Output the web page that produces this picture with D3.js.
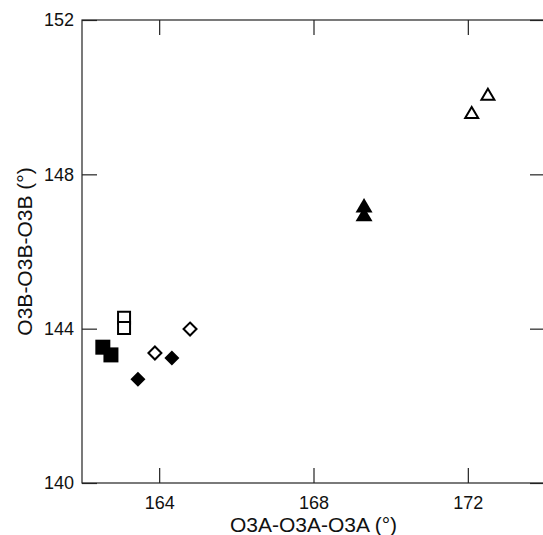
<!DOCTYPE html>
<html>
<head>
<meta charset="utf-8">
<script src="https://cdn.jsdelivr.net/npm/d3@7"></script>
<style>
  body { margin: 0; background: #fff; }
  svg { display: block; font-family: "Liberation Sans", Arial, sans-serif; }
</style>
</head>
<body>
<div id="chart"></div>
<script>
// O3A-O3A-O3A angle (x) vs O3B-O3B-O3B angle (y), degrees
const squaresOpen = [[163.09, 144.28], [163.09, 144.02]];
const squaresFilled = [[162.54, 143.52], [162.75, 143.32]];
const diamondsOpen = [[163.89, 143.37], [164.80, 143.99]];
const diamondsFilled = [[163.45, 142.69], [164.33, 143.24]];
const trianglesOpen = [[172.10, 149.59], [172.52, 150.06]];
const trianglesFilled = [[169.31, 147.18], [169.31, 146.95]];

const xTicks = [164, 168, 172];
const yTicks = [140, 144, 148, 152];

const width = 543, height = 535;
const margin = {top: 20, right: -2, bottom: 52, left: 82};
const graphWidth = width - margin.left - margin.right;
const graphHeight = height - margin.top - margin.bottom;

const svg = d3.select('#chart').append('svg')
    .attr('width', width)
    .attr('height', height);

const g = svg.append('g')
    .attr('transform', 'translate(' + margin.left + ',' + margin.top + ')');

const x = d3.scaleLinear().domain([162, 174]).range([0, graphWidth]);
const y = d3.scaleLinear().domain([140, 152]).range([graphHeight, 0]);

// frame
g.append('rect')
    .attr('width', graphWidth)
    .attr('height', graphHeight)
    .attr('fill', 'none')
    .attr('stroke', '#222')
    .attr('stroke-width', 1.2);

function styleAxis(sel) {
    sel.select('.domain').remove();
    sel.selectAll('.tick line').attr('stroke', '#222').attr('stroke-width', 1.2);
    sel.selectAll('.tick text')
        .attr('fill', '#111')
        .style('font-size', '18px')
        .style('font-family', '"Liberation Sans", Arial, sans-serif');
}

// bottom axis, ticks pointing inward
g.append('g')
    .attr('transform', 'translate(0,' + graphHeight + ')')
    .call(d3.axisBottom(x).tickValues(xTicks).tickSizeInner(-15).tickSizeOuter(0).tickPadding(13).tickFormat(d3.format('d')))
    .call(styleAxis);

g.append('g')
    .call(d3.axisTop(x).tickValues(xTicks).tickSizeInner(-15).tickSizeOuter(0).tickFormat(''))
    .call(styleAxis);

g.append('g')
    .call(d3.axisLeft(y).tickValues(yTicks).tickSizeInner(-15).tickSizeOuter(0).tickPadding(8).tickFormat(d3.format('d')))
    .call(styleAxis);

g.append('g')
    .attr('transform', 'translate(' + graphWidth + ',0)')
    .call(d3.axisRight(y).tickValues(yTicks).tickSizeInner(-15).tickSizeOuter(0).tickFormat(''))
    .call(styleAxis);

// axis titles
svg.append('text')
    .attr('x', margin.left + x(168))
    .attr('y', 532)
    .attr('text-anchor', 'middle')
    .style('font-size', '21px')
    .attr('fill', '#111')
    .text('O3A-O3A-O3A (°)');

svg.append('text')
    .attr('transform', 'translate(32,' + (margin.top + y(146)) + ') rotate(-90)')
    .attr('text-anchor', 'middle')
    .style('font-size', '21px')
    .attr('fill', '#111')
    .text('O3B-O3B-O3B (°)');

// marker shapes
function squarePath(s) {
    const h = s / 2;
    return 'M' + (-h) + ',' + (-h) + 'H' + h + 'V' + h + 'H' + (-h) + 'Z';
}
function diamondPath(s) {
    const h = s / 2;
    return 'M0,' + (-h) + 'L' + h + ',0L0,' + h + 'L' + (-h) + ',0Z';
}
function trianglePath(s) {
    const h = s / 2, t = s * 0.85;
    return 'M0,' + (-t * 0.55) + 'L' + h + ',' + (t * 0.45) + 'L' + (-h) + ',' + (t * 0.45) + 'Z';
}

function drawSeries(data, path, filled) {
    g.append('g').selectAll('path')
        .data(data)
        .enter()
        .append('path')
        .attr('transform', d => 'translate(' + x(d[0]) + ',' + y(d[1]) + ')')
        .attr('d', path)
        .attr('fill', filled ? '#000' : '#fff')
        .attr('stroke', '#000')
        .attr('stroke-width', filled ? 0 : 2);
}

drawSeries(squaresOpen, squarePath(12), false);
drawSeries(squaresFilled, squarePath(15), true);
drawSeries(diamondsOpen, diamondPath(13), false);
drawSeries(diamondsFilled, diamondPath(15), true);
drawSeries(trianglesFilled, trianglePath(17), true);
drawSeries(trianglesOpen, trianglePath(13), false);
</script>
</body>
</html>
